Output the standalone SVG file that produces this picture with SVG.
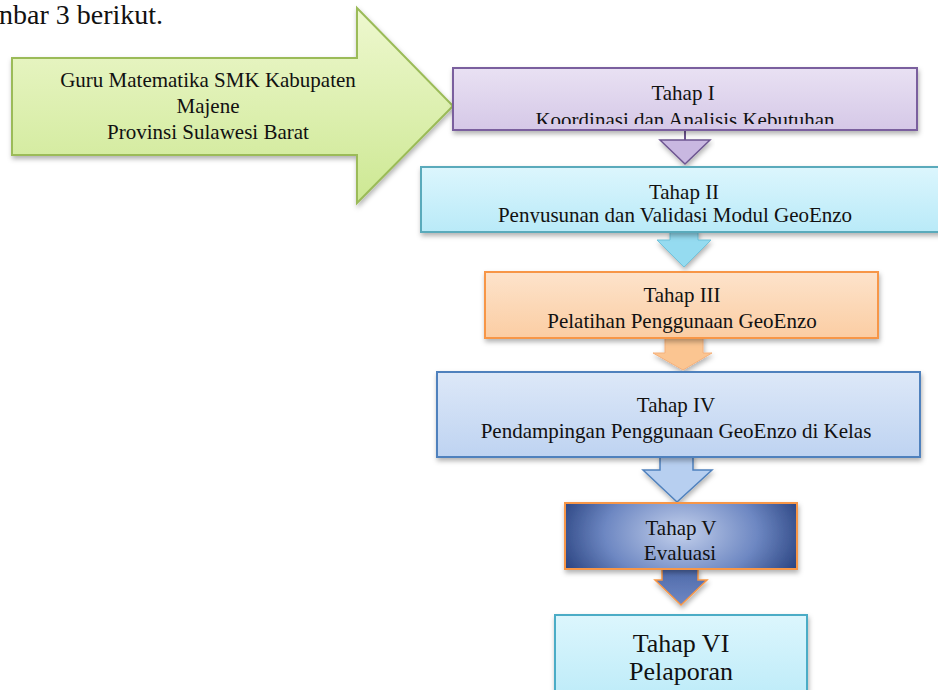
<svg xmlns="http://www.w3.org/2000/svg" width="938" height="690" viewBox="0 0 938 690">
<defs>
  <linearGradient id="gGreen" x1="0" y1="0" x2="0" y2="1">
    <stop offset="0" stop-color="#eef8cf"/>
    <stop offset="1" stop-color="#cde893"/>
  </linearGradient>
  <linearGradient id="gPurple" x1="0" y1="0" x2="0" y2="1">
    <stop offset="0" stop-color="#e9e1f3"/>
    <stop offset="1" stop-color="#d5c8e7"/>
  </linearGradient>
  <linearGradient id="gCyan" x1="0" y1="0" x2="0" y2="1">
    <stop offset="0" stop-color="#dcf6fd"/>
    <stop offset="1" stop-color="#b9eaf8"/>
  </linearGradient>
  <linearGradient id="gOrange" x1="0" y1="0" x2="0" y2="1">
    <stop offset="0" stop-color="#fde3cb"/>
    <stop offset="1" stop-color="#fbcda3"/>
  </linearGradient>
  <linearGradient id="gBlue" x1="0" y1="0" x2="0" y2="1">
    <stop offset="0" stop-color="#dde8f8"/>
    <stop offset="1" stop-color="#bed3f1"/>
  </linearGradient>
  <radialGradient id="gDark" cx="0.5" cy="0.45" r="0.6" gradientTransform="translate(0.5 0.45) scale(1 2.2) translate(-0.5 -0.45)">
    <stop offset="0" stop-color="#c3d0ec"/>
    <stop offset="0.55" stop-color="#6d87c2"/>
    <stop offset="1" stop-color="#1c3573"/>
  </radialGradient>
  <linearGradient id="gDarkArrow" x1="0" y1="0" x2="0" y2="1">
    <stop offset="0" stop-color="#4d68a8"/>
    <stop offset="1" stop-color="#6f88c4"/>
  </linearGradient>
  <filter id="shadow" x="-10%" y="-20%" width="120%" height="150%">
    <feDropShadow dx="1" dy="3" stdDeviation="2.5" flood-color="#000" flood-opacity="0.3"/>
  </filter>
  <clipPath id="clip1"><rect x="440" y="60" width="490" height="64"/></clipPath>
  <clipPath id="clip2"><rect x="421" y="160" width="517" height="63"/></clipPath>
  <style>
    text { font-family: "Liberation Serif", "Times New Roman", serif; fill: #111; text-anchor: middle; }
    .t { font-size: 21px; }
    .big { font-size: 26px; }
    .box { stroke-width: 2; filter: url(#shadow); }
  </style>
</defs>

<text x="-1" y="24" style="font-size:28px;text-anchor:start">nbar 3 berikut.</text>

<g id="connectors">
  <line x1="685" y1="130" x2="685" y2="141" stroke="#6d5590" stroke-width="2"/>
  <polygon points="660,140 710,140 685,164" fill="#c9b8e1" stroke="#6d5590" stroke-width="1.5" filter="url(#shadow)"/>
  <polygon points="670,230 698,230 698,240 711,240 684,267 657,240 670,240" fill="#95dbf0" stroke="#6fc4dc" stroke-width="1" filter="url(#shadow)"/>
  <polygon points="665,336 703,336 703,353 712,353 683,370 653,353 665,353" fill="#fbc591" stroke="#f5b07a" stroke-width="1" filter="url(#shadow)"/>
  <polygon points="660,455 693,455 693,470 712,470 677,502 643,470 660,470" fill="#b7cff0" stroke="#4f81bd" stroke-width="1.5" filter="url(#shadow)"/>
  <polygon points="662,568 698,568 698,580 707,580 681,605 655,580 662,580" fill="url(#gDarkArrow)" stroke="#f79646" stroke-width="1.5" filter="url(#shadow)"/>
</g>

<g id="source">
  <polygon points="12,58 357,58 357,8 453,106 357,203 357,155 12,155" fill="url(#gGreen)" stroke="#9bbb59" stroke-width="2" filter="url(#shadow)"/>
  <text class="t" x="208" y="87">Guru Matematika SMK Kabupaten</text>
  <text class="t" x="208" y="113">Majene</text>
  <text class="t" x="208" y="139">Provinsi Sulawesi Barat</text>
</g>

<g id="tahap1">
  <rect class="box" x="453" y="68" width="464" height="62" fill="url(#gPurple)" stroke="#7a5e9e"/>
  <text class="t" x="683" y="100">Tahap I</text>
  <text class="t" x="685" y="127" clip-path="url(#clip1)">Koordinasi dan Analisis Kebutuhan</text>
</g>

<g id="tahap2">
  <rect class="box" x="421" y="167" width="530" height="65" fill="url(#gCyan)" stroke="#5aaabb"/>
  <text class="t" x="684" y="199">Tahap II</text>
  <text class="t" x="675" y="222" clip-path="url(#clip2)">Penyusunan dan Validasi Modul GeoEnzo</text>
</g>

<g id="tahap3">
  <rect class="box" x="485" y="272" width="393" height="66" fill="url(#gOrange)" stroke="#f79646"/>
  <text class="t" x="682" y="302">Tahap III</text>
  <text class="t" x="682" y="328">Pelatihan Penggunaan GeoEnzo</text>
</g>

<g id="tahap4">
  <rect class="box" x="437" y="372" width="483" height="85" fill="url(#gBlue)" stroke="#4f81bd"/>
  <text class="t" x="676" y="412">Tahap IV</text>
  <text class="t" x="676" y="438">Pendampingan Penggunaan GeoEnzo di Kelas</text>
</g>

<g id="tahap5">
  <rect class="box" x="565" y="503" width="232" height="66" fill="url(#gDark)" stroke="#f79646"/>
  <text class="t" x="681" y="535">Tahap V</text>
  <text class="t" x="680" y="560">Evaluasi</text>
</g>

<g id="tahap6">
  <rect class="box" x="555" y="615" width="252" height="95" fill="url(#gCyan)" stroke="#4bacc6"/>
  <text class="big" x="681" y="652">Tahap VI</text>
  <text class="big" x="681" y="680">Pelaporan</text>
</g>
</svg>
